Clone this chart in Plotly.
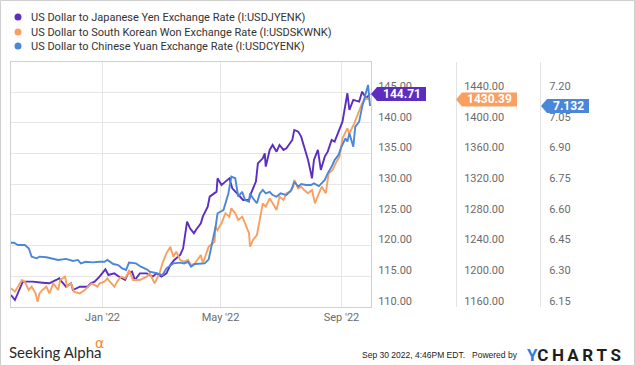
import plotly.graph_objects as go

# ---------------- data ----------------
jpy_dates = ["2021-09-30","2021-10-04","2021-10-12","2021-10-22","2021-11-01","2021-11-08","2021-11-15","2021-11-18","2021-11-19","2021-11-25",
             "2021-11-30","2021-12-02","2021-12-09","2021-12-17","2021-12-20","2021-12-24","2021-12-29","2022-01-04","2022-01-07","2022-01-13",
             "2022-01-18","2022-01-24","2022-01-27","2022-01-31","2022-02-03","2022-02-08","2022-02-15","2022-02-21","2022-02-25","2022-03-02",
             "2022-03-07","2022-03-11","2022-03-15","2022-03-21","2022-03-24","2022-03-28","2022-03-31","2022-04-04","2022-04-06","2022-04-11",
             "2022-04-13","2022-04-18","2022-04-20","2022-04-25","2022-04-27","2022-04-28","2022-05-02","2022-05-06","2022-05-10","2022-05-13",
             "2022-05-19","2022-05-24","2022-05-30","2022-06-01","2022-06-06","2022-06-08","2022-06-13","2022-06-15","2022-06-16","2022-06-20",
             "2022-06-23","2022-06-27","2022-06-30","2022-07-04","2022-07-07","2022-07-11","2022-07-13","2022-07-15","2022-07-19","2022-07-22",
             "2022-07-25","2022-07-29","2022-08-01","2022-08-02","2022-08-04","2022-08-08","2022-08-11","2022-08-15","2022-08-18","2022-08-22",
             "2022-08-25","2022-08-29","2022-09-02","2022-09-07","2022-09-09","2022-09-13","2022-09-19","2022-09-22","2022-09-26","2022-09-30"]
jpy_values = [111.95,111.14,114.13,114.13,113.96,113.86,114.40,114.67,114.40,113.31,
              113.86,112.77,113.31,113.31,113.86,114.13,114.94,116.14,115.21,115.48,
              114.94,114.40,115.48,115.76,114.40,115.48,115.48,114.94,115.48,114.94,
              115.48,116.84,117.66,118.47,119.56,123.90,122.82,122.00,122.54,123.63,
              124.71,126.34,127.97,128.52,128.79,130.96,129.87,130.42,130.96,129.33,
              128.24,127.43,127.43,128.52,130.42,133.40,134.22,135.03,132.86,135.58,
              136.39,135.30,136.39,135.58,135.85,136.66,137.20,138.83,138.56,137.75,
              136.12,133.95,131.77,130.96,133.95,135.58,132.32,134.49,135.30,137.20,
              136.93,138.56,140.19,144.81,142.09,143.72,143.45,145.08,143.99,144.71]

krw_dates = ["2021-09-30","2021-10-04","2021-10-11","2021-10-14","2021-10-18","2021-10-21","2021-10-25","2021-10-27","2021-10-29","2021-11-01",
             "2021-11-05","2021-11-08","2021-11-12","2021-11-17","2021-11-19","2021-11-24","2021-11-26","2021-11-30","2021-12-03","2021-12-09",
             "2021-12-14","2021-12-21","2021-12-27","2021-12-29","2022-01-03","2022-01-06","2022-01-07","2022-01-13","2022-01-17","2022-01-20",
             "2022-01-24","2022-01-27","2022-01-28","2022-02-01","2022-02-08","2022-02-15","2022-02-18","2022-02-23","2022-02-28","2022-03-03",
             "2022-03-07","2022-03-11","2022-03-14","2022-03-17","2022-03-21","2022-03-25","2022-03-29","2022-04-01","2022-04-05","2022-04-11",
             "2022-04-13","2022-04-19","2022-04-25","2022-04-26","2022-04-28","2022-05-02","2022-05-06","2022-05-10","2022-05-12","2022-05-16",
             "2022-05-19","2022-05-23","2022-05-26","2022-05-30","2022-05-31","2022-06-03","2022-06-07","2022-06-10","2022-06-13","2022-06-16",
             "2022-06-20","2022-06-23","2022-06-27","2022-06-30","2022-07-04","2022-07-07","2022-07-11","2022-07-14","2022-07-15","2022-07-19",
             "2022-07-22","2022-07-25","2022-07-29","2022-08-02","2022-08-05","2022-08-09","2022-08-12","2022-08-16","2022-08-19","2022-08-23",
             "2022-08-26","2022-08-30","2022-09-02","2022-09-07","2022-09-09","2022-09-14","2022-09-16","2022-09-22","2022-09-26","2022-09-30"]
krw_values = [1184.3,1180.0,1195.2,1193.0,1182.2,1186.5,1177.8,1166.9,1177.8,1182.2,
              1186.5,1177.8,1190.8,1182.2,1195.2,1199.5,1186.5,1190.8,1180.0,1177.8,
              1182.2,1190.8,1186.5,1190.8,1193.0,1197.4,1195.2,1186.5,1195.2,1199.5,
              1197.4,1203.9,1208.2,1195.2,1195.2,1199.5,1203.9,1190.8,1203.9,1216.9,
              1229.9,1238.6,1225.6,1232.1,1221.2,1219.1,1221.2,1214.7,1216.9,1227.8,
              1216.9,1238.6,1245.1,1264.7,1260.3,1269.0,1282.1,1277.7,1288.6,1282.1,
              1273.4,1277.7,1269.0,1256.0,1238.6,1247.3,1253.8,1273.4,1295.1,1290.7,
              1301.6,1295.1,1286.4,1303.8,1299.4,1308.1,1310.3,1316.8,1325.5,1314.6,
              1316.8,1312.5,1308.1,1312.5,1295.1,1308.1,1316.8,1308.1,1334.2,1338.5,
              1347.2,1355.9,1379.8,1392.8,1386.3,1399.3,1405.8,1425.4,1431.9,1430.39]

cny_dates = ["2021-09-30","2021-10-03","2021-10-07","2021-10-14","2021-10-18","2021-10-21","2021-10-26","2021-10-29","2021-11-05","2021-11-10",
             "2021-11-17","2021-11-25","2021-12-02","2021-12-07","2021-12-10","2021-12-15","2021-12-22","2021-12-29","2022-01-03","2022-01-06",
             "2022-01-12","2022-01-17","2022-01-21","2022-01-25","2022-01-28","2022-02-04","2022-02-09","2022-02-15","2022-02-18","2022-02-25",
             "2022-03-03","2022-03-07","2022-03-14","2022-03-21","2022-03-25","2022-03-29","2022-04-01","2022-04-05","2022-04-11","2022-04-15",
             "2022-04-19","2022-04-22","2022-04-26","2022-04-28","2022-05-04","2022-05-09","2022-05-12","2022-05-16","2022-05-19","2022-05-23",
             "2022-05-26","2022-05-30","2022-05-31","2022-06-03","2022-06-07","2022-06-10","2022-06-13","2022-06-16","2022-06-20","2022-06-23",
             "2022-06-27","2022-07-01","2022-07-07","2022-07-12","2022-07-15","2022-07-19","2022-07-22","2022-07-27","2022-08-01","2022-08-04",
             "2022-08-09","2022-08-15","2022-08-18","2022-08-22","2022-08-25","2022-08-29","2022-09-01","2022-09-05","2022-09-07","2022-09-09",
             "2022-09-13","2022-09-15","2022-09-19","2022-09-22","2022-09-28","2022-09-30"]
cny_values = [6.464,6.464,6.453,6.453,6.437,6.396,6.388,6.396,6.393,6.388,
              6.380,6.385,6.375,6.380,6.363,6.371,6.368,6.371,6.371,6.380,
              6.360,6.355,6.339,6.331,6.367,6.363,6.347,6.334,6.323,6.315,
              6.306,6.339,6.363,6.367,6.363,6.371,6.347,6.360,6.363,6.363,
              6.383,6.445,6.542,6.608,6.624,6.705,6.787,6.779,6.689,6.713,
              6.673,6.665,6.705,6.681,6.657,6.705,6.722,6.705,6.713,6.697,
              6.689,6.705,6.697,6.722,6.762,6.738,6.751,6.746,6.746,6.754,
              6.741,6.771,6.803,6.836,6.868,6.893,6.933,6.974,6.958,6.999,
              6.933,7.031,7.056,7.129,7.235,7.132]

series_names = ["US Dollar to Japanese Yen Exchange Rate (I:USDJYENK)",
                "US Dollar to South Korean Won Exchange Rate (I:USDSKWNK)",
                "US Dollar to Chinese Yuan Exchange Rate (I:USDCYENK)"]
last_labels = ["144.71", "1430.39", "7.132"]
last_values = [144.71, 1430.39, 7.132]

x_tick_vals = ["2022-01-01", "2022-05-01", "2022-09-01"]
x_tick_text = ["Jan '22", "May '22", "Sep '22"]
jpy_ticks = [110, 115, 120, 125, 130, 135, 140, 145]
krw_ticks = [1160, 1200, 1240, 1280, 1320, 1360, 1400, 1440]
cny_ticks = [6.15, 6.30, 6.45, 6.60, 6.75, 6.90, 7.05, 7.20]

# ---------------- style ----------------
W, H = 635, 366
ML, MR, MT, MB = 11, 0, 62, 59
PW = W - ML - MR
PH = H - MT - MB
C_JPY = "#5c2dc1"
C_KRW = "#f7a062"
C_CNY = "#4a87d8"
GRID = "#e6e6e6"
FRAME = "#d0d0d0"
TICKC = "#6b6b6b"
FONT = "Roboto"

def px_x(p):
    return (p - ML) / PW

def px_y(p):
    return (H - MB - p) / PH

XDOM = px_x(371)

fig = go.Figure()
fig.add_trace(go.Scatter(x=krw_dates, y=krw_values, yaxis="y2", mode="lines",
                         line=dict(color=C_KRW, width=1.9), name=series_names[1], showlegend=False))
fig.add_trace(go.Scatter(x=cny_dates, y=cny_values, yaxis="y3", mode="lines",
                         line=dict(color=C_CNY, width=1.9), name=series_names[2], showlegend=False))
fig.add_trace(go.Scatter(x=jpy_dates, y=jpy_values, yaxis="y", mode="lines",
                         line=dict(color=C_JPY, width=1.9), name=series_names[0], showlegend=False))

tickfont = dict(family=FONT, size=11, color=TICKC)
fig.update_layout(
    template="none",
    width=W, height=H,
    margin=dict(l=ML, r=MR, t=MT, b=MB, pad=0, autoexpand=False),
    paper_bgcolor="white", plot_bgcolor="white",
    showlegend=False,
    font=dict(family=FONT, size=11, color="#333"),
    xaxis=dict(domain=[0, XDOM], range=["2021-09-30", "2022-10-01"], type="date",
               tickvals=x_tick_vals, ticktext=x_tick_text, ticks="", automargin=False,
               showgrid=True, gridcolor=GRID, gridwidth=1,
               showline=True, linecolor=FRAME, linewidth=1, mirror=True,
               tickfont=tickfont, zeroline=False),
    yaxis=dict(side="right", anchor="x", range=[110, 110 + PH / 30.7 * 5], automargin=False,
               tickvals=jpy_ticks, tickformat=".2f", ticks="",
               showgrid=True, gridcolor=GRID, gridwidth=1,
               showline=True, linecolor=FRAME, linewidth=1, mirror=True,
               tickfont=tickfont, zeroline=False, ticklabelshift=-6, ticklabelstandoff=4),
    yaxis2=dict(side="right", anchor="free", overlaying="y", position=px_x(456), automargin=False,
                range=[1160, 1160 + PH / 30.7 * 40], tickvals=krw_ticks, tickformat=".2f", ticks="",
                showgrid=False, showline=True, linecolor="#e3e3e3", linewidth=1,
                tickfont=tickfont, zeroline=False, ticklabelshift=-6, ticklabelstandoff=5),
    yaxis3=dict(side="right", anchor="free", overlaying="y", position=px_x(540), automargin=False,
                range=[6.15, 6.15 + PH / 30.7 * 0.15], tickvals=cny_ticks, tickformat=".2f", ticks="",
                showgrid=False, showline=True, linecolor="#e3e3e3", linewidth=1,
                tickfont=tickfont, zeroline=False, ticklabelshift=-6, ticklabelstandoff=6),
)

shapes = []
annotations = []

# last-value badges
badges = [
    (C_JPY, "y", px_x(371), 55, (377 + 426) / 2),
    (C_KRW, "y2", px_x(456), 61, (462 + 517) / 2),
    (C_CNY, "y3", px_x(541), 48, (547 + 589) / 2),
]
for (col, yref, xa, wpx, xc), lab, val in zip(badges, last_labels, last_values):
    shapes.append(dict(type="path", xref="paper", yref=yref, xsizemode="pixel", ysizemode="pixel",
                       xanchor=xa, yanchor=val,
                       path=f"M0,0 L6,7 L{wpx},7 L{wpx},-7 L6,-7 Z",
                       fillcolor=col, line=dict(width=0), layer="above"))
    annotations.append(dict(xref="paper", yref=yref, x=px_x(xc), y=val, text=f"<b>{lab}</b>",
                            showarrow=False, xanchor="center", yanchor="middle",
                            font=dict(family=FONT, size=12, color="white")))

# legend
legend_y = [17, 32, 46]
for name, col, yy in zip(series_names, [C_JPY, C_KRW, C_CNY], legend_y):
    shapes.append(dict(type="circle", xref="paper", yref="paper", xsizemode="pixel", ysizemode="pixel",
                       xanchor=px_x(18), yanchor=px_y(yy), x0=-3.5, x1=3.5, y0=-3.5, y1=3.5,
                       fillcolor=col, line=dict(width=0)))
    annotations.append(dict(xref="paper", yref="paper", x=px_x(29), y=px_y(yy), text=name,
                            showarrow=False, xanchor="left", yanchor="middle",
                            font=dict(family=FONT, size=11, color="#333")))

# outer frame
shapes.append(dict(type="rect", xref="paper", yref="paper",
                   x0=px_x(0.5), x1=px_x(634.5), y0=px_y(365.5), y1=px_y(0.5),
                   line=dict(color="#cfcfcf", width=1), fillcolor="rgba(0,0,0,0)"))

# footer
annotations.append(dict(xref="paper", yref="paper", x=px_x(7), y=px_y(352), text="Seeking Alpha",
                        showarrow=False, xanchor="left", yanchor="middle",
                        font=dict(family="Lato", size=15, color="#2a2a2a")))
annotations.append(dict(xref="paper", yref="paper", x=px_x(93), y=px_y(343), text="α",
                        showarrow=False, xanchor="left", yanchor="middle",
                        font=dict(family="DejaVu Sans", size=14, color="#f08c2e")))
annotations.append(dict(xref="paper", yref="paper", x=px_x(360), y=px_y(355),
                        text="Sep 30 2022, 4:46PM EDT.",
                        showarrow=False, xanchor="left", yanchor="middle",
                        font=dict(family="Liberation Sans", size=8.5, color="#222")))
annotations.append(dict(xref="paper", yref="paper", x=px_x(520), y=px_y(355),
                        text="Powered by",
                        showarrow=False, xanchor="right", yanchor="middle",
                        font=dict(family="Liberation Sans", size=8.5, color="#222")))
annotations.append(dict(xref="paper", yref="paper", x=px_x(623), y=px_y(355),
                        text="<b><span style='color:#2f7fe0'>Y</span>C\u2009H\u2009A\u2009R\u2009T\u2009S</b>",
                        showarrow=False, xanchor="right", yanchor="middle",
                        font=dict(family="Roboto", size=17, color="#1e1e1e")))

fig.update_layout(shapes=shapes, annotations=annotations)
fig.write_html("out.html", config={"displayModeBar": False},
               post_script="document.body.style.margin='0px';document.body.style.padding='0px';")
